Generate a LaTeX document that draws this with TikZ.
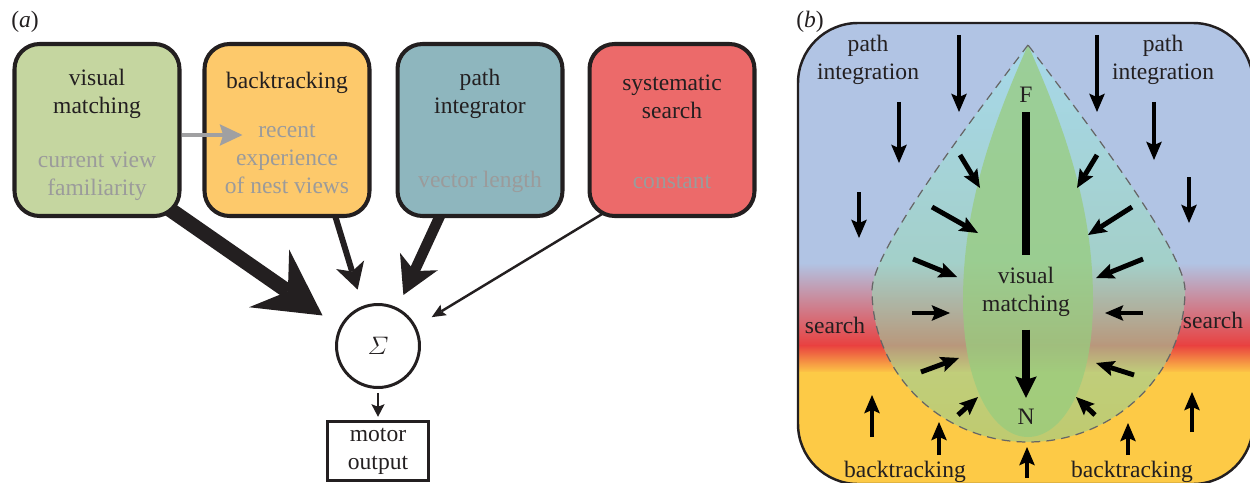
\documentclass[tikz,border=0pt]{standalone}
\usepackage{amsmath}
\usepackage{fontspec}
\setmainfont{Liberation Serif}
\usetikzlibrary{arrows.meta, positioning, calc, backgrounds}
\definecolor{ink}{HTML}{231F20}
\definecolor{vmgreen}{HTML}{C5D6A0}
\definecolor{btorange}{HTML}{FDC96B}
\definecolor{piteal}{HTML}{8EB6BE}
\definecolor{ssred}{HTML}{EC6A6A}
\definecolor{subgray}{HTML}{9B9B9B}
\definecolor{linkgray}{HTML}{A0A0A2}
\definecolor{skyblue}{HTML}{B1C4E4}
\definecolor{bandred}{HTML}{E9403F}
\definecolor{sandyellow}{HTML}{FDCA46}
\definecolor{dropcyan}{HTML}{A0E6EE}
\definecolor{dropgreen}{HTML}{97CC8C}
\definecolor{leafgreen}{HTML}{98CC7E}
\definecolor{dashgray}{HTML}{666666}

\begin{document}
\begin{tikzpicture}[
  x=0.02cm, y=-0.02cm,
  every node/.style={text=ink, font=\fontsize{13.4}{15.9}\selectfont, align=center, inner sep=0pt},
  boxa/.style={draw=ink, line width=2.3pt, rounded corners=0.5cm, minimum width=3.3cm, minimum height=3.44cm},
  sub/.style={text=subgray},
  pin/.style={black, line width=2.8pt, -{Stealth[length=10.5pt, width=9pt, inset=2pt, line width=0pt]}},
]
\useasboundingbox (0,0) rectangle (1250,483);

% ---------------- panel (a) ----------------
\node (pa) at (25,22) {(\textit{a})};

% Cue boxes
\node[boxa, fill=vmgreen] (vm) at (97,130) {};
\node[boxa, fill=btorange] (bt) at (287,130) {};
\node[boxa, fill=piteal] (pi) at (480,130) {};
\node[boxa, fill=ssred] (ss) at (672,130) {};

\node (vmt) at (97,94) {visual\\matching};
\node[sub] (vms) at (97,176) {current view\\familiarity};
\node (btt) at (287,83) {backtracking};
\node[sub] (bts) at (287,159) {recent\\experience\\of nest views};
\node (pit) at (480,94) {path\\integrator};
\node[sub] (pis) at (480,182) {vector length};
\node (sst) at (672,97) {systematic\\search};
\node[sub] (sss) at (672,182) {constant};

% Sum and output
\node[circle, draw=ink, line width=1.7pt, minimum size=1.66cm, font=\fontsize{14}{16}\selectfont] (sig) at (378,346) {$\varSigma$};
\node[draw=ink, line width=2pt, minimum width=2.02cm, minimum height=1.18cm] (mo) at (378,451) {motor\\output};

% Weighted inputs
\begin{pgfonlayer}{background}
\draw[ink, line width=8.5pt, -{Stealth[length=37pt, width=40pt, inset=13pt, line width=0pt]},
  shorten <=-0.3cm, shorten >=0.41cm] (vm.-46) -- (sig.154);
\draw[ink, line width=3.4pt, -{Stealth[length=14.8pt, width=16.7pt, inset=4pt, line width=0pt]},
  shorten <=-0.1cm, shorten >=0.34cm] (bt.-61) -- (sig.111);
\draw[ink, line width=6pt, -{Stealth[length=21pt, width=23.7pt, inset=6pt, line width=0pt]},
  shorten <=-0.1cm, shorten >=0.28cm] (pi.-115) -- (sig.63);
\draw[ink, line width=1.4pt, -{Stealth[length=8pt, width=7pt, inset=1.5pt, line width=0pt]},
  shorten <=-0.2cm, shorten >=0.36cm] (ss.-131) -- (sig.27);
\end{pgfonlayer}

\draw[linkgray, line width=2.3pt, -{Stealth[length=13pt, width=12.3pt, inset=2pt, line width=0pt]}]
  ([yshift=-0.1cm]vm.east) -- ([xshift=0.8cm, yshift=-0.1cm]bt.west);
\draw[ink, line width=1.7pt, -{Stealth[length=7.2pt, width=7.6pt, inset=1.5pt, line width=0pt]},
  shorten <=0.08cm, shorten >=0.06cm] (sig) -- (mo);

% ---------------- panel (b) ----------------
\node (pb) at (810,22) {(\textit{b})};

\begin{scope}
\clip[rounded corners=1.2cm] (798,23) rectangle (1253,484);
% Background bands
\fill[skyblue] (798,23) rectangle (1253,264);
\shade[top color=skyblue, bottom color=bandred] (798,263) rectangle (1253,346);
\shade[top color=bandred, bottom color=sandyellow] (798,345) rectangle (1253,373);
\fill[sandyellow] (798,372) rectangle (1253,484);

% Catchment of the visual matching
\shade[top color=dropcyan, bottom color=dropgreen, fill opacity=0.6]
  (1028,45) .. controls (975,115) and (872,250) .. (872,290)
  .. controls (872,374) and (942,442) .. (1028,442)
  .. controls (1114,442) and (1185,374) .. (1185,290)
  .. controls (1185,250) and (1081,115) .. (1028,45) -- cycle;
\fill[leafgreen, fill opacity=0.75]
  (1028,45) .. controls (990,130) and (963,210) .. (963,300)
  .. controls (963,390) and (995,437) .. (1028,437)
  .. controls (1061,437) and (1093,390) .. (1093,300)
  .. controls (1093,210) and (1066,130) .. (1028,45) -- cycle;
\draw[dashgray, line width=0.7pt, dash pattern=on 5pt off 3.5pt]
  (1028,45) .. controls (975,115) and (872,250) .. (872,290)
  .. controls (872,374) and (942,442) .. (1028,442)
  .. controls (1114,442) and (1185,374) .. (1185,290)
  .. controls (1185,250) and (1081,115) .. (1028,45);

% Path integration pushes down
\draw[pin] (959,35) -- (959,112);
\draw[pin] (1097,35) -- (1097,112);
\draw[pin] (899,102) -- (899,163);
\draw[pin] (1154,102) -- (1154,160);
\draw[pin] (859,192) -- (859,238);
\draw[pin] (1189,177) -- (1189,223);

% Visual matching pulls inwards
\draw[pin] (960,155) -- (980,188);
\draw[pin] (1097,155) -- (1077,188);
\draw[pin] (932,207) -- (978,233);
\draw[pin] (1132,207) -- (1088,235);
\draw[pin] (913,259) -- (957,277);
\draw[pin] (1143,259) -- (1096,278);
\draw[pin] (912,313) -- (950,313);
\draw[pin] (1143,313) -- (1105,313);
\draw[pin] (921,372) -- (959,358);
\draw[pin] (1134,375) -- (1096,363);
\draw[pin] (958,415) -- (978,397);
\draw[pin] (1095,415) -- (1076,397);

% Backtracking pushes up
\draw[pin] (872,437) -- (872,395);
\draw[pin] (1192,432) -- (1192,392);
\draw[pin] (939,455) -- (939,422);
\draw[pin] (1128,455) -- (1128,423);
\draw[pin] (1027,478) -- (1027,447);

% Labels
\node (pil) at (868,60) {path\\integration};
\node (pir) at (1163,60) {path\\integration};
\node (srl) at (835,325) {search};
\node (srr) at (1213,320) {search};
\node (btl) at (905,472) {backtracking};
\node (btr) at (1132,472) {backtracking};

% Feeder to nest axis
\node (fp) at (1026,95) {F};
\node (vmb) at (1026,292) {visual\\matching};
\node (np) at (1026,417) {N};
\draw[black, line width=5pt, shorten <=0.18cm, shorten >=0.23cm] (fp) -- (vmb);
\draw[black, line width=4.6pt, -{Stealth[length=12.3pt, width=12.3pt, inset=2pt, line width=0pt]},
  shorten <=0.25cm, shorten >=0.22cm] (vmb) -- (np);
\end{scope}

\draw[ink, line width=1.4pt, rounded corners=1.2cm] (798,23) rectangle (1253,484);

\end{tikzpicture}
\end{document}
